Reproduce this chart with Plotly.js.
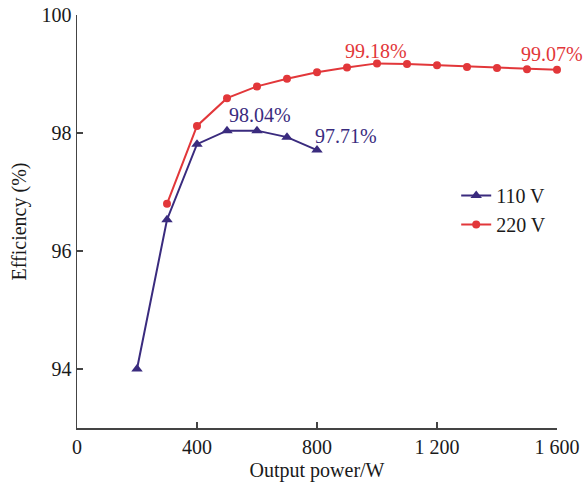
<!DOCTYPE html>
<html>
<head>
<meta charset="utf-8">
<script src="https://cdn.plot.ly/plotly-3.0.1.min.js"></script>
<style>
  html, body { margin: 0; padding: 0; background: #fff; }
  #chart { width: 584px; height: 482px; }
</style>
</head>
<body>
<div id="chart"></div>
<script>
// Output power (W) and measured efficiency (%) at two input voltages
const power110 = [200, 300, 400, 500, 600, 700, 800];
const eff110   = [94.00, 96.53, 97.81, 98.04, 98.04, 97.93, 97.71];

const power220 = [300, 400, 500, 600, 700, 800, 900, 1000, 1100, 1200, 1300, 1400, 1500, 1600];
const eff220   = [96.80, 98.12, 98.59, 98.79, 98.92, 99.03, 99.11, 99.18, 99.17, 99.15, 99.12, 99.10, 99.08, 99.07];

const xTickVals  = [0, 400, 800, 1200, 1600];
const xTickText  = ['0', '400', '800', '1 200', '1 600'];
const yTickVals  = [94, 96, 98, 100];

// Points whose values are written next to the curve (indices into each series)
const labelled110 = [3, 6];
const labelled220 = [7, 13];

const purple = '#3a2b7e';
const red = '#e2373a';
const serif = 'Liberation Serif, Times New Roman, serif';
const fs = 20;

const traces = [
  {
    x: power110, y: eff110, name: '110 V',
    type: 'scatter', mode: 'lines+markers',
    line: { color: purple, width: 2 },
    marker: { symbol: 'triangle-up', size: 10, color: purple },
    cliponaxis: false
  },
  {
    x: power220, y: eff220, name: '220 V',
    type: 'scatter', mode: 'lines+markers',
    line: { color: red, width: 2 },
    marker: { symbol: 'circle', size: 8, color: red },
    cliponaxis: false
  }
];

// Value labels, offsets in pixels from their points
const shifts110 = [[33, 16], [29, 14]];
const shifts220 = [[-1, 12], [-5, 16]];
const annotations = [];
labelled110.forEach((i, k) => annotations.push({
  x: power110[i], y: eff110[i], text: eff110[i].toFixed(2) + '%',
  showarrow: false, xshift: shifts110[k][0], yshift: shifts110[k][1],
  font: { family: serif, size: fs, color: purple }
}));
labelled220.forEach((i, k) => annotations.push({
  x: power220[i], y: eff220[i], text: eff220[i].toFixed(2) + '%',
  showarrow: false, xshift: shifts220[k][0], yshift: shifts220[k][1],
  font: { family: serif, size: fs, color: red }
}));

const layout = {
  width: 584, height: 482,
  margin: { l: 77, r: 27, t: 15, b: 54 },
  paper_bgcolor: '#fff', plot_bgcolor: '#fff',
  font: { family: serif, size: fs, color: '#1a1a1a' },
  showlegend: true,
  legend: {
    x: 0.79, y: 0.61, xanchor: 'left', yanchor: 'top',
    bgcolor: 'rgba(0,0,0,0)', font: { family: serif, size: fs, color: '#1a1a1a' }
  },
  xaxis: {
    range: [0, 1600],
    tickmode: 'array', tickvals: xTickVals, ticktext: xTickText,
    ticks: 'inside', ticklen: 6, tickwidth: 1.5, tickcolor: '#444',
    showline: true, linecolor: '#444', linewidth: 1.5,
    showgrid: false, zeroline: false,
    tickfont: { family: serif, size: fs },
    title: { text: 'Output power/W', font: { family: serif, size: fs }, standoff: 11 }
  },
  yaxis: {
    range: [93, 100],
    tickmode: 'array', tickvals: yTickVals,
    ticks: 'inside', ticklen: 6, tickwidth: 1.5, tickcolor: '#444',
    showline: true, linecolor: '#444', linewidth: 1.5,
    showgrid: false, zeroline: false,
    tickfont: { family: serif, size: fs },
    title: { text: 'Efficiency (%)', font: { family: serif, size: fs }, standoff: 9 }
  },
  annotations: annotations
};

Plotly.newPlot('chart', traces, layout, { displayModeBar: false, staticPlot: true });
</script>
</body>
</html>
